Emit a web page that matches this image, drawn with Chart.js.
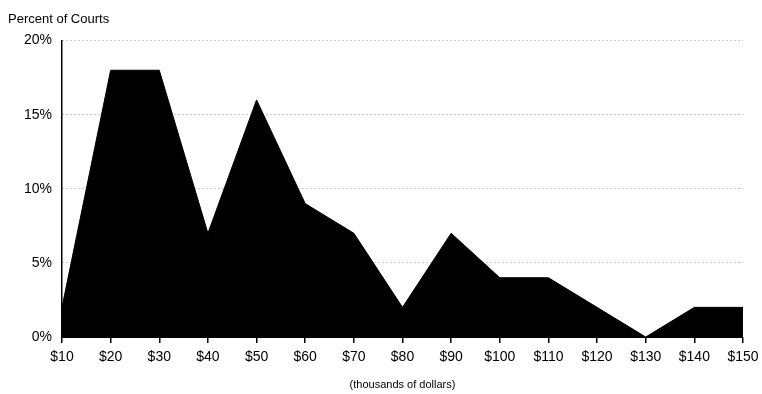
<!DOCTYPE html>
<html lang="en">
<head>
    <meta charset="UTF-8">
    <title>Percent of Courts</title>
    <script src="https://cdn.jsdelivr.net/npm/chart.js"></script>
    <style>
        body { margin: 0; background: #fff; }
    </style>
</head>
<body>
    <canvas id="grafico" width="762" height="394"></canvas>
    <script>
        // salary bands (thousands of dollars) and share of courts in each
        const faixas = ["$10", "$20", "$30", "$40", "$50", "$60", "$70", "$80",
                        "$90", "$100", "$110", "$120", "$130", "$140", "$150"]
        const percentuais = [2, 18, 18, 7, 16, 9, 7, 2, 7, 4, 4, 2, 0, 2, 2]
        const ticksY = [0, 5, 10, 15, 20]

        const fonte = "'Liberation Sans', Arial, sans-serif"
        const ctx = document.getElementById('grafico')

        new Chart(ctx, {
          type: 'line',
          data: {
            labels: faixas,
            datasets: [{
              data: percentuais,
              fill: 'origin',
              backgroundColor: '#000',
              borderColor: '#000',
              borderWidth: 1,
              pointRadius: 0,
              tension: 0
            }]
          },
          options: {
            responsive: false,
            animation: false,
            layout: { padding: { left: 8, right: 19, top: 4, bottom: 2 } },
            plugins: {
              legend: { display: false },
              tooltip: { enabled: false },
              title: {
                display: true,
                text: 'Percent of Courts',
                align: 'start',
                color: '#000',
                font: { family: fonte, size: 13, weight: 'normal' },
                padding: { top: 8, bottom: 13 }
              }
            },
            scales: {
              x: {
                offset: false,
                afterFit: axis => { axis.paddingRight = 0 },
                grid: { drawOnChartArea: false, drawTicks: true, tickLength: 6, color: '#000', lineWidth: 1.5 },
                border: { display: true, color: '#000' },
                ticks: { color: '#000', font: { family: fonte, size: 14 }, maxRotation: 0, autoSkip: false, padding: 6 },
                title: {
                  display: true,
                  text: '(thousands of dollars)',
                  color: '#000',
                  font: { family: fonte, size: 11 },
                  padding: { top: 7, bottom: 0 }
                }
              },
              y: {
                min: ticksY[0],
                max: ticksY[ticksY.length - 1],
                afterBuildTicks: axis => { axis.ticks = ticksY.map(v => ({ value: v })) },
                afterFit: axis => { axis.width = 54 },
                grid: { color: '#999', drawTicks: false },
                border: { display: true, color: '#000', width: 1.5, dash: [1, 3] },
                ticks: { color: '#000', font: { family: fonte, size: 14 }, padding: 10, callback: v => v + '%' }
              }
            }
          }
        })
      </script>
</body>
</html>
